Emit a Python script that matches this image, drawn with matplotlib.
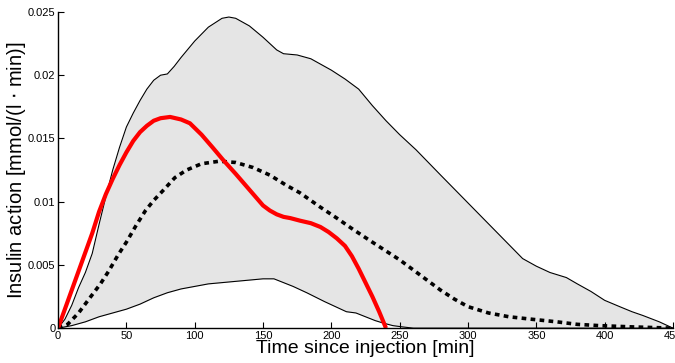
import matplotlib.pyplot as plt

plt.rcParams['font.family'] = ['Liberation Sans', 'DejaVu Sans']

# envelope of insulin action (upper / lower bound)
upper_t = [0, 5, 10, 15, 20, 25, 30, 35, 40, 45, 50, 55, 60, 65, 70, 75, 80, 85, 90,
           100, 110, 120, 125, 130, 140, 150, 160, 165, 175, 185, 200, 210, 220, 230,
           240, 250, 262, 280, 300, 320, 340, 350, 360, 372, 380, 390, 400, 411, 420,
           428, 440, 450]
upper_y = [0, 0.0007, 0.0018, 0.0032, 0.0044, 0.0059, 0.0082, 0.0104, 0.0125, 0.0143,
           0.0159, 0.0170, 0.0180, 0.0189, 0.0196, 0.0200, 0.0201, 0.0207, 0.0214,
           0.0227, 0.0238, 0.0245, 0.0246, 0.0245, 0.0239, 0.0230, 0.0220, 0.0217,
           0.0216, 0.0213, 0.0204, 0.0197, 0.0189, 0.0176, 0.0164, 0.0153, 0.0141,
           0.0121, 0.0099, 0.0077, 0.0055, 0.0049, 0.0044, 0.0040, 0.0035, 0.0029,
           0.0022, 0.0017, 0.0013, 0.0010, 0.0005, 0]

lower_t = [0, 10, 20, 30, 40, 50, 60, 70, 80, 90, 100, 110, 120, 130, 140, 150, 158,
           165, 172, 182, 195, 205, 211, 218, 225, 232, 238, 245, 252, 260, 450]
lower_y = [0, 0.0002, 0.0005, 0.0009, 0.0012, 0.0015, 0.0019, 0.0024, 0.0028, 0.0031,
           0.0033, 0.0035, 0.0036, 0.0037, 0.0038, 0.0039, 0.0039, 0.0036, 0.0033,
           0.0028, 0.0021, 0.0016, 0.0013, 0.0012, 0.0009, 0.0006, 0.0004, 0.0002,
           0.0001, 0, 0]

# individual curve
red_t = [0, 5, 10, 15, 20, 25, 30, 35, 40, 45, 50, 55, 60, 65, 70, 75, 82, 90, 96.5,
         105, 113, 120.8, 130, 138, 146, 150, 155, 160, 165, 170, 177, 185, 192, 198,
         204, 210, 215, 220, 225, 230, 235, 240]
red_y = [0, 0.0015, 0.0030, 0.0045, 0.0060, 0.0075, 0.0092, 0.0106, 0.0118, 0.0129,
         0.0139, 0.0148, 0.0155, 0.0160, 0.0164, 0.0166, 0.0167, 0.0165, 0.0162,
         0.0153, 0.0143, 0.0133, 0.0122, 0.0112, 0.0102, 0.0097, 0.0093, 0.0090,
         0.0088, 0.0087, 0.0085, 0.0083, 0.0080, 0.0076, 0.0071, 0.0065, 0.0057,
         0.0047, 0.0036, 0.0025, 0.0013, 0]

# mean curve
mean_t = [0, 7, 15, 24, 31, 37, 44, 50, 57, 64, 70, 77, 85.5, 94, 105, 118, 130, 142.7,
          155, 167, 177, 191.5, 204, 216, 230, 240, 250, 260, 270, 280, 290, 300, 315,
          330, 347, 365, 380, 396, 420, 450]
mean_y = [0, 0.0003, 0.0012, 0.0025, 0.0035, 0.0045, 0.0058, 0.0068, 0.0081, 0.0093,
          0.0101, 0.0109, 0.0119, 0.0125, 0.0130, 0.0132, 0.0131, 0.0127, 0.0121,
          0.0113, 0.0107, 0.0096, 0.0087, 0.0078, 0.0068, 0.0061, 0.0054, 0.0046,
          0.0038, 0.0030, 0.0023, 0.0017, 0.0012, 0.0009, 0.0007, 0.0005, 0.0003,
          0.0002, 0.0001, 0]

x_ticks = [0, 50, 100, 150, 200, 250, 300, 350, 400, 450]
y_ticks = [0, 0.005, 0.01, 0.015, 0.02, 0.025]
y_labels = ['0', '0.005', '0.01', '0.015', '0.02', '0.025']

fig = plt.figure(figsize=(6.75, 3.63), dpi=100)
ax = fig.add_axes([0.086, 0.096, 0.911, 0.871])

# shaded band: fill under upper, then paint white under lower
ax.fill_between(upper_t, 0, upper_y, color='#e5e5e5', lw=0)
ax.fill_between(lower_t, 0, lower_y, color='white', lw=0)
ax.plot(upper_t, upper_y, color='black', lw=0.8, solid_joinstyle='round')
ax.plot(lower_t, lower_y, color='black', lw=0.8, solid_joinstyle='round')

ax.plot(mean_t, mean_y, color='black', lw=2.6, dashes=(1.3, 1.2))
ax.plot(red_t, red_y, color='red', lw=3.0, solid_capstyle='butt',
        solid_joinstyle='round')

ax.set_xlim(0, 450)
ax.set_ylim(0, 0.025)
ax.set_xticks(x_ticks)
ax.set_yticks(y_ticks)
ax.set_yticklabels(y_labels)
ax.tick_params(direction='in', length=4, width=0.8, labelsize=8, pad=2)
for side in ['top', 'right']:
    ax.spines[side].set_visible(False)
for side in ['left', 'bottom']:
    ax.spines[side].set_linewidth(1.0)

ax.set_xlabel('Time since injection [min]', fontsize=14, labelpad=-1)
ax.set_ylabel('Insulin action [mmol/(l $\\cdot$ min)]', fontsize=14.5, labelpad=0)

fig.savefig('out.png', dpi=100)
